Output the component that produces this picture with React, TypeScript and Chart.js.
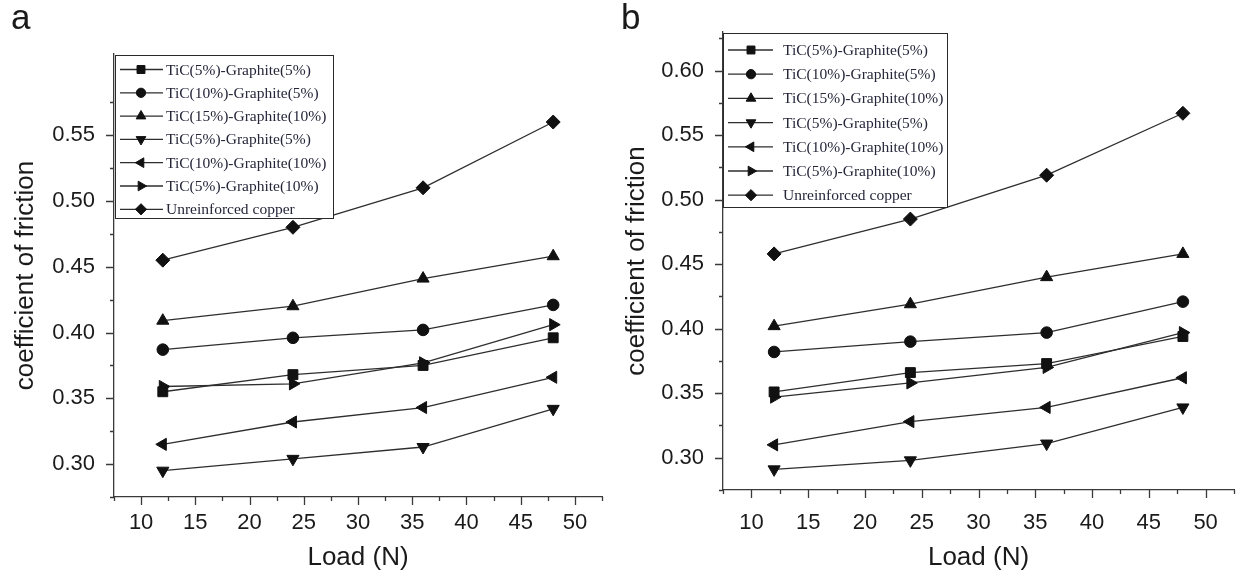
import React, { useEffect, useRef } from 'react';
import { Chart, registerables } from 'chart.js';
import { drawPoint } from 'chart.js/helpers';

Chart.register(...registerables);

// ---------- data ----------
const loads = [12, 24, 36, 48];

const seriesNames = [
  'TiC(5%)-Graphite(5%)',
  'TiC(10%)-Graphite(5%)',
  'TiC(15%)-Graphite(10%)',
  'TiC(5%)-Graphite(5%)',
  'TiC(10%)-Graphite(10%)',
  'TiC(5%)-Graphite(10%)',
  'Unreinforced copper',
];

// panel a
const aSquare = [0.355, 0.368, 0.375, 0.396];
const aCircle = [0.387, 0.396, 0.402, 0.421];
const aTriUp = [0.409, 0.420, 0.441, 0.458];
const aTriDown = [0.295, 0.304, 0.313, 0.342];
const aTriLeft = [0.315, 0.332, 0.343, 0.366];
const aTriRight = [0.359, 0.361, 0.377, 0.406];
const aDiamond = [0.455, 0.480, 0.510, 0.560];

// panel b
const bSquare = [0.351, 0.366, 0.373, 0.394];
const bCircle = [0.382, 0.390, 0.397, 0.421];
const bTriUp = [0.402, 0.419, 0.440, 0.458];
const bTriDown = [0.291, 0.298, 0.311, 0.339];
const bTriLeft = [0.310, 0.328, 0.339, 0.362];
const bTriRight = [0.347, 0.358, 0.370, 0.397];
const bDiamond = [0.458, 0.485, 0.519, 0.567];

// ticks
const xMajorTicks = [10, 15, 20, 25, 30, 35, 40, 45, 50];
const xMinorTicks = [7.5, 12.5, 17.5, 22.5, 27.5, 32.5, 37.5, 42.5, 47.5, 52.5];
const yMajorTicksA = [0.30, 0.35, 0.40, 0.45, 0.50, 0.55];
const yMinorTicksA = [0.275, 0.325, 0.375, 0.425, 0.475, 0.525, 0.575];
const yMajorTicksB = [0.30, 0.35, 0.40, 0.45, 0.50, 0.55, 0.60];
const yMinorTicksB = [0.275, 0.325, 0.375, 0.425, 0.475, 0.525, 0.575, 0.625];

// marker styles (square, circle, up, down, left, right, diamond)
const pointStyles = ['rect', 'circle', 'triangle', 'triangle', 'triangle', 'triangle', 'rectRot'];
const pointRotations = [0, 0, 0, 180, -90, 90, 0];
const pointRadii = [7, 5.8, 7, 7, 7, 7, 7];

const LINE_COLOR = '#2e2e2e';
const MARK_COLOR = '#111111';
const TEXT_COLOR = '#1a1a1a';

// ---------- plugins ----------
const axisTicksPlugin = {
  id: 'axisTicks',
  afterDraw(chart: any, _a: any, o: any) {
    const { ctx, chartArea, scales } = chart;
    const xs = scales.x;
    const ys = scales.y;
    ctx.save();
    ctx.strokeStyle = o.color;
    ctx.lineWidth = o.width;
    ctx.beginPath();
    const xt = (vals: number[], len: number) => {
      for (const v of vals) {
        const px = Math.round(xs.getPixelForValue(v)) + 0.5;
        ctx.moveTo(px, chartArea.bottom);
        ctx.lineTo(px, chartArea.bottom + len);
      }
    };
    const yt = (vals: number[], len: number) => {
      for (const v of vals) {
        const py = Math.round(ys.getPixelForValue(v)) + 0.5;
        ctx.moveTo(chartArea.left, py);
        ctx.lineTo(chartArea.left - len, py);
      }
    };
    xt(o.xMajor, o.majorLen);
    xt(o.xMinor, o.minorLen);
    yt(o.yMajor, o.majorLen);
    yt(o.yMinor, o.minorLen);
    ctx.stroke();
    ctx.restore();
  },
};

const boxLegendPlugin = {
  id: 'boxLegend',
  afterDatasetsDraw(chart: any, _a: any, o: any) {
    const ctx = chart.ctx;
    ctx.save();
    ctx.fillStyle = '#ffffff';
    ctx.fillRect(o.x, o.y, o.w, o.h);
    ctx.strokeStyle = '#2a2a2a';
    ctx.lineWidth = 1;
    ctx.strokeRect(o.x + 0.5, o.y + 0.5, o.w, o.h);
    ctx.font = o.font;
    ctx.textBaseline = 'middle';
    ctx.textAlign = 'left';
    chart.data.datasets.forEach((ds: any, i: number) => {
      const y = o.rowY + i * o.rowH;
      ctx.strokeStyle = LINE_COLOR;
      ctx.lineWidth = 1.3;
      ctx.beginPath();
      ctx.moveTo(o.lineX0, y);
      ctx.lineTo(o.lineX1, y);
      ctx.stroke();
      ctx.fillStyle = MARK_COLOR;
      ctx.strokeStyle = MARK_COLOR;
      ctx.lineWidth = 1;
      drawPoint(ctx, {
        pointStyle: ds.pointStyle,
        rotation: ds.pointRotation,
        radius: ds.pointRadius * o.markScale,
        borderWidth: 1,
      } as any, o.markX, y);
      ctx.fillStyle = o.textColor;
      ctx.fillText(ds.label, o.textX, y + 1);
    });
    ctx.restore();
  },
};

const letterPlugin = {
  id: 'panelLetter',
  afterDraw(chart: any, _a: any, o: any) {
    const ctx = chart.ctx;
    ctx.save();
    ctx.font = o.font;
    ctx.fillStyle = TEXT_COLOR;
    ctx.textBaseline = 'alphabetic';
    ctx.textAlign = 'left';
    ctx.fillText(o.text, o.x, o.y);
    ctx.restore();
  },
};

// ---------- config ----------
type Panel = {
  width: number;
  series: number[][];
  yMin: number;
  yMax: number;
  yMajor: number[];
  yMinor: number[];
  padTop: number;
  padRight: number;
  yAxisWidth: number;
  xAxisHeight: number;
  yTitlePad: number;
  xLabelPad: number;
  legend: any;
  letter: any;
};

function makeConfig(p: Panel): any {
  const datasets = p.series.map((vals, i) => ({
    label: seriesNames[i],
    data: loads.map((x, j) => ({ x, y: vals[j] })),
    borderColor: LINE_COLOR,
    borderWidth: 1.3,
    backgroundColor: MARK_COLOR,
    pointStyle: pointStyles[i],
    pointRotation: pointRotations[i],
    pointRadius: pointRadii[i],
    pointBackgroundColor: MARK_COLOR,
    pointBorderColor: MARK_COLOR,
    pointBorderWidth: 1,
    tension: 0,
    clip: false,
  }));
  const fmt = (major: number[], dec: number) => (v: any) => {
    const hit = major.find((m) => Math.abs(m - v) < 1e-9);
    return hit === undefined ? '' : hit.toFixed(dec);
  };
  return {
    type: 'line',
    data: { datasets },
    plugins: [axisTicksPlugin, boxLegendPlugin, letterPlugin],
    options: {
      responsive: false,
      animation: false,
      devicePixelRatio: 1,
      layout: { autoPadding: false, padding: { top: p.padTop, right: p.padRight, left: 0, bottom: 0 } },
      plugins: {
        legend: { display: false },
        tooltip: { enabled: false },
        axisTicks: {
          xMajor: xMajorTicks,
          xMinor: xMinorTicks,
          yMajor: p.yMajor,
          yMinor: p.yMinor,
          majorLen: 8,
          minorLen: 4,
          color: '#3a3a3a',
          width: 1.3,
        },
        boxLegend: p.legend,
        panelLetter: p.letter,
      },
      scales: {
        x: {
          type: 'linear',
          min: 7.5,
          max: 52.5,
          afterFit: (s: any) => { s.height = p.xAxisHeight; },
          afterBuildTicks: (s: any) => {
            s.ticks = [...xMajorTicks, ...xMinorTicks].sort((a, b) => a - b).map((value) => ({ value }));
          },
          grid: { display: false, drawTicks: true, tickLength: 8 },
          border: { display: true, color: '#3a3a3a', width: 1.3 },
          ticks: {
            autoSkip: false,
            maxRotation: 0,
            padding: p.xLabelPad,
            color: TEXT_COLOR,
            font: { family: '"Liberation Sans", Arial, sans-serif', size: 22 },
            callback: fmt(xMajorTicks, 0),
          },
          title: {
            display: true,
            text: 'Load (N)',
            color: TEXT_COLOR,
            font: { family: '"Liberation Sans", Arial, sans-serif', size: 26 },
            padding: { top: 0, bottom: 3.5 },
          },
        },
        y: {
          type: 'linear',
          min: p.yMin,
          max: p.yMax,
          afterFit: (s: any) => { s.width = p.yAxisWidth; },
          afterBuildTicks: (s: any) => {
            s.ticks = [...p.yMajor, ...p.yMinor].sort((a, b) => a - b).map((value) => ({ value }));
          },
          grid: { display: false, drawTicks: true, tickLength: 8 },
          border: { display: true, color: '#3a3a3a', width: 1.3 },
          ticks: {
            autoSkip: false,
            padding: 11,
            color: TEXT_COLOR,
            font: { family: '"Liberation Sans", Arial, sans-serif', size: 22 },
            callback: fmt(p.yMajor, 2),
          },
          title: {
            display: true,
            text: 'coefficient of friction',
            color: TEXT_COLOR,
            font: { family: '"Liberation Sans", Arial, sans-serif', size: 26 },
            padding: { top: p.yTitlePad, bottom: 0 },
          },
        },
      },
    },
  };
}

const panelA: Panel = {
  width: 615,
  series: [aSquare, aCircle, aTriUp, aTriDown, aTriLeft, aTriRight, aDiamond],
  yMin: 0.275,
  yMax: 0.6117,
  yMajor: yMajorTicksA,
  yMinor: yMinorTicksA,
  padTop: 54,
  padRight: 13,
  yAxisWidth: 114,
  xAxisHeight: 80,
  yTitlePad: 10,
  xLabelPad: 5,
  legend: {
    x: 115, y: 55, w: 218, h: 163,
    rowY: 69.5, rowH: 23.3,
    lineX0: 120, lineX1: 163, markX: 141, textX: 166,
    markScale: 0.8,
    font: '15.5px "Liberation Serif", "Times New Roman", serif',
    textColor: '#26263a',
  },
  letter: { text: 'a', x: 11, y: 29, font: '35px "Liberation Sans", Arial, sans-serif' },
};

const panelB: Panel = {
  width: 631,
  series: [bSquare, bCircle, bTriUp, bTriDown, bTriLeft, bTriRight, bDiamond],
  yMin: 0.275,
  yMax: 0.63,
  yMajor: yMajorTicksB,
  yMinor: yMinorTicksB,
  padTop: 32,
  padRight: 2,
  yAxisWidth: 108,
  xAxisHeight: 87,
  yTitlePad: 6,
  xLabelPad: 12,
  legend: {
    x: 108, y: 33, w: 224, h: 174,
    rowY: 50, rowH: 24.2,
    lineX0: 113, lineX1: 158, markX: 136, textX: 168,
    markScale: 0.8,
    font: '15.5px "Liberation Serif", "Times New Roman", serif',
    textColor: '#26263a',
  },
  letter: { text: 'b', x: 6, y: 29, font: '35px "Liberation Sans", Arial, sans-serif' },
};

function PanelChart({ panel, left }: { panel: Panel; left: number }) {
  const ref = useRef<HTMLCanvasElement | null>(null);
  useEffect(() => {
    if (!ref.current) return;
    const chart = new Chart(ref.current, makeConfig(panel));
    return () => chart.destroy();
  }, [panel]);
  return (
    <canvas
      ref={ref}
      width={panel.width}
      height={577}
      style={{ position: 'absolute', left, top: 0, width: panel.width, height: 577 }}
    />
  );
}

export default function App() {
  return (
    <div style={{ position: 'absolute', left: 0, top: 0, width: 1246, height: 577, background: '#ffffff', overflow: 'hidden' }}>
      <PanelChart panel={panelA} left={0} />
      <PanelChart panel={panelB} left={615} />
    </div>
  );
}
